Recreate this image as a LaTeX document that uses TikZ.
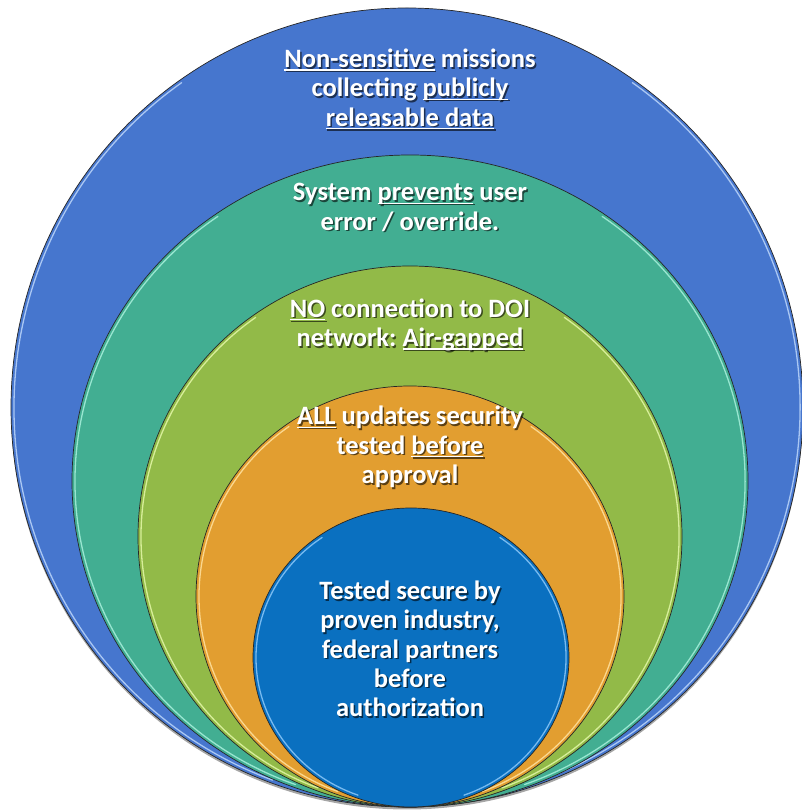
\documentclass[tikz,border=0pt]{standalone}
\usepackage{fontspec}
\setmainfont{Carlito}
\usetikzlibrary{shapes.geometric,calc}

\definecolor{ringA}{HTML}{4676CE}
\definecolor{ringB}{HTML}{42AE92}
\definecolor{ringC}{HTML}{92BA48}
\definecolor{ringD}{HTML}{E29E30}
\definecolor{ringE}{HTML}{0A70C0}
\definecolor{hlA}{HTML}{BCD6FA}
\definecolor{hlB}{HTML}{A8F0DC}
\definecolor{hlC}{HTML}{E4F8A8}
\definecolor{hlD}{HTML}{FFE2A0}
\definecolor{hlE}{HTML}{8CC8F8}

% white underline drawn under a word
\newsavebox{\undlbox}
\newcommand\undl[1]{\sbox\undlbox{#1}\rlap{\rule[-3pt]{\wd\undlbox}{1.3pt}}\usebox\undlbox}

\tikzset{
  ring/.style={ellipse, draw=black!85, line width=0.7pt, inner sep=0pt, outer sep=0pt},
  hl/.style={draw=#1, line width=1.3pt, line cap=round, opacity=0.85},
  lbl/.style={text=white, align=center, inner sep=0pt,
    font=\frenchspacing\bfseries\fontsize{26.5}{29.3}\selectfont},
  lblshadow/.style={lbl, text=black, text opacity=0.6},
}

\newcommand\ringlabel[3]{%
  \node[lblshadow] (#2s) at ($(#1)+(1.5,-1.5)$) {#3};
  \node[lbl] (#2) at (#1) {#3};
}

\begin{document}
\begin{tikzpicture}[x=1pt,y=1pt]
\useasboundingbox (0,0) rectangle (802,811);
\fill[white] (0,0) rectangle (802,811);
\begin{scope}
\clip (0,0) rectangle (802,811);

% soft shadow under the stack
\fill[black, opacity=0.35] (407,401) ellipse[x radius=396, y radius=399.5];

% nested rings, outermost first
\node[ring, fill=ringA, minimum width=792pt, minimum height=799pt] (ringone) at (407,403.5) {};
\draw[hl=hlA] ([shift={(125:393 and 396.5)}]ringone.center) arc[start angle=125, end angle=250, x radius=393, y radius=396.5];
\draw[hl=hlA] ([shift={(-70:393 and 396.5)}]ringone.center) arc[start angle=-70, end angle=55, x radius=393, y radius=396.5];

\node[ring, fill=ringB, minimum width=676pt, minimum height=652pt] (ringtwo) at (410,330) {};
\draw[hl=hlB] ([shift={(125:335 and 323)}]ringtwo.center) arc[start angle=125, end angle=250, x radius=335, y radius=323];
\draw[hl=hlB] ([shift={(-70:335 and 323)}]ringtwo.center) arc[start angle=-70, end angle=55, x radius=335, y radius=323];

\node[ring, fill=ringC, minimum width=544pt, minimum height=541pt] (ringthree) at (410,274.5) {};
\draw[hl=hlC] ([shift={(125:269 and 267.5)}]ringthree.center) arc[start angle=125, end angle=250, x radius=269, y radius=267.5];
\draw[hl=hlC] ([shift={(-70:269 and 267.5)}]ringthree.center) arc[start angle=-70, end angle=55, x radius=269, y radius=267.5];

\node[ring, fill=ringD, minimum width=428pt, minimum height=421pt] (ringfour) at (410,214.5) {};
\draw[hl=hlD] ([shift={(125:211 and 207.5)}]ringfour.center) arc[start angle=125, end angle=250, x radius=211, y radius=207.5];
\draw[hl=hlD] ([shift={(-70:211 and 207.5)}]ringfour.center) arc[start angle=-70, end angle=55, x radius=211, y radius=207.5];

\node[ring, fill=ringE, minimum width=316pt, minimum height=299pt] (ringfive) at (411,153.5) {};
\draw[hl=hlE] ([shift={(125:155 and 146.5)}]ringfive.center) arc[start angle=125, end angle=250, x radius=155, y radius=146.5];
\draw[hl=hlE] ([shift={(-70:155 and 146.5)}]ringfive.center) arc[start angle=-70, end angle=55, x radius=155, y radius=146.5];
\end{scope}

% labels
\coordinate (posone) at (410,722);
\coordinate (postwo) at (410,603.5);
\coordinate (posthree) at (410,486);
\coordinate (posfour) at (410,364);
\coordinate (posfive) at (410,162);

\ringlabel{posone}{textone}{\undl{Non-sensitive} missions\\collecting \undl{publicly}\\\undl{releasable data}}
\ringlabel{postwo}{texttwo}{System \undl{prevents} user\\error / override.}
\ringlabel{posthree}{textthree}{\undl{NO} connection to DOI\\network: \undl{Air-gapped}}
\ringlabel{posfour}{textfour}{\undl{ALL} updates security\\tested \undl{before}\\approval}
\ringlabel{posfive}{textfive}{Tested secure by\\proven industry,\\federal partners\\before\\authorization}
\end{tikzpicture}
\end{document}
